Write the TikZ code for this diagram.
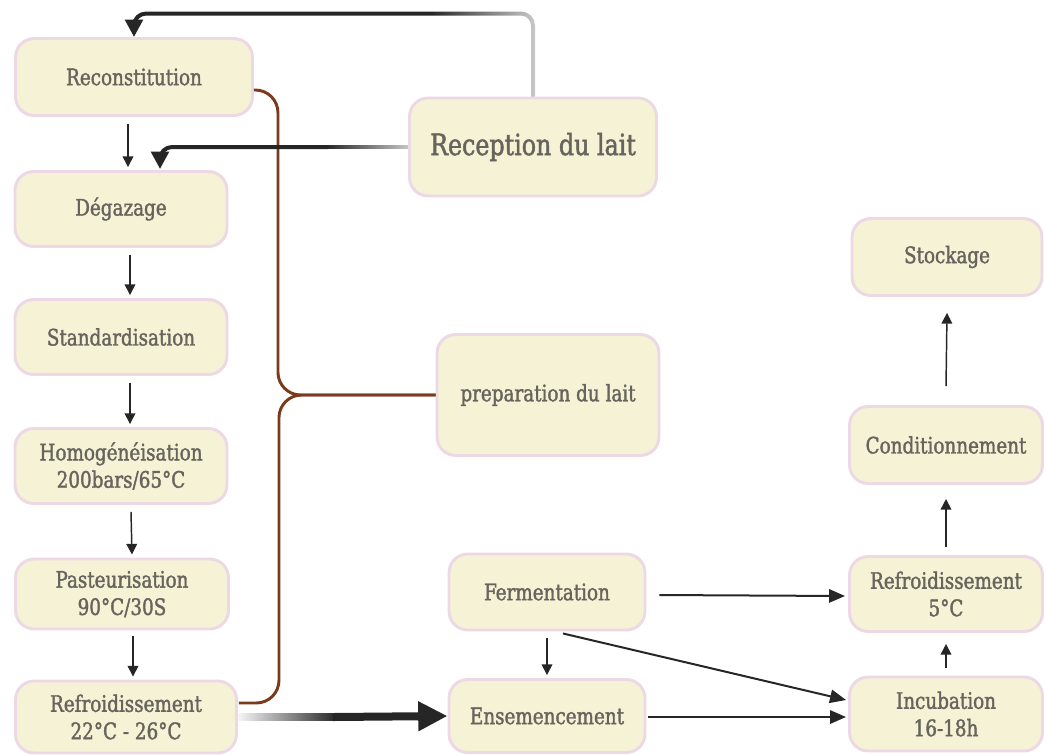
\documentclass[tikz,border=0pt]{standalone}
\usepackage{fontspec}
\setmainfont{DejaVu Serif Condensed}[FakeStretch=0.9, RawFeature={embolden=1.5}]
\usetikzlibrary{arrows.meta,calc,fadings}

\definecolor{boxfill}{HTML}{F5F2D6}
\definecolor{boxline}{HTML}{EDD8E6}
\definecolor{labelgray}{HTML}{66645C}
\definecolor{bracebrown}{HTML}{7B3A1C}

\tikzfading[name=fadetoright, left color=transparent!0, right color=transparent!75]
\tikzfading[name=fadefromleft, left color=transparent!100, right color=transparent!0]

\tikzset{
  stepbox/.style={draw=boxline, fill=boxfill, line width=2.2pt, rounded corners=14pt,
    text=labelgray, align=center, inner sep=0pt, font=\fontsize{17}{20.5}\selectfont},
  boxsize/.style 2 args={minimum width=#1*0.75pt, minimum height=#2*0.75pt},
  flow/.style={draw=black!85, line width=1.1pt, -{Triangle[length=8pt,width=8pt]}},
  sideflow/.style={draw=black!85, line width=1.5pt, -{Triangle[length=12pt,width=10pt]}},
  bigflow/.style={draw=black!85, line width=3pt, rounded corners=9pt, -{Triangle[length=13pt,width=13pt]}},
  brace/.style={draw=bracebrown, line width=2.2pt, rounded corners=17pt}
}

\begin{document}
\begin{tikzpicture}[x=0.75pt, y=-0.75pt]
  \useasboundingbox (0,0) rectangle (1044,754);

  % left column
  \node[stepbox, boxsize={237}{77}] (recon) at (134,77) {Reconstitution};
  \node[stepbox, boxsize={212}{75}] (degaz) at (121,209) {Dégazage};
  \node[stepbox, boxsize={212}{75}] (stand) at (121,337) {Standardisation};
  \node[stepbox, boxsize={212}{75}] (homog) at (121,466) {Homogénéisation\\200bars/65°C};
  \node[stepbox, boxsize={213}{70}] (pasteur) at (122,594) {Pasteurisation\\90°C/30S};
  \node[stepbox, boxsize={221}{72}] (cool1) at (126,717) {Refroidissement\\22°C - 26°C};

  % middle
  \node[stepbox, boxsize={247}{98}, font=\fontsize{22}{26}\selectfont] (recep) at (533,147) {Reception du lait};
  \node[stepbox, boxsize={222}{121}] (prep) at (548,395) {preparation du lait};
  \node[stepbox, boxsize={196}{76}] (ferm) at (547,592) {Fermentation};
  \node[stepbox, boxsize={196}{73}] (ensem) at (547,716) {Ensemencement};

  % right column
  \node[stepbox, boxsize={190}{77}] (stock) at (947,257) {Stockage};
  \node[stepbox, boxsize={193}{77}] (cond) at (946,445) {Conditionnement};
  \node[stepbox, boxsize={193}{75}] (cool2) at (946,594) {Refroidissement\\5°C};
  \node[stepbox, boxsize={193}{74}] (incub) at (946,714) {Incubation\\16-18h};

  % bracket to preparation
  \draw[brace] ($(recon.east)+(0,13)$) -- ++(24,0) |- (prep.west);
  \draw[brace] ($(cool1.east)+(1,-14)$) -- ++(40,0) |- (prep.west);

  % reception arrows
  \coordinate (tp) at ($(recep.north)+(-100,-83)$);
  \draw[line width=3pt, draw=black!85, rounded corners=9pt, path fading=fadetoright] (recep.north) |- (tp);
  \draw[bigflow] (tp) -| (recon.north);
  \coordinate (rd) at ($(recep.west)+(-80,0)$);
  \draw[line width=3pt, draw=black!85, path fading=fadetoright] (rd) -- (recep.west);
  \draw[bigflow] (rd) -| ($(degaz.north)+(39,-1)$);

  % process steps
  \draw[flow] ($(recon.south)+(-6,7)$) -- ($(degaz.north)+(7,-3)$);
  \draw[flow] ($(degaz.south)+(9,7)$) -- ($(stand.north)+(9,-3)$);
  \draw[flow] ($(stand.south)+(9,7)$) -- ($(homog.north)+(9,-3)$);
  \draw[flow] ($(homog.south)+(10,7)$) -- ($(pasteur.north)+(10,-3)$);
  \draw[flow] ($(pasteur.south)+(11,6)$) -- ($(cool1.north)+(7,-3)$);

  \coordinate (ck) at ($(cool1.east)+(95,0)$);
  \draw[line width=6pt, draw=black!85, path fading=fadefromleft] (cool1.east) -- (ck);
  \draw[line width=6pt, draw=black!85, -{Triangle[length=22pt,width=21pt]}] (ck) -- (ensem.west);

  \draw[flow] ($(ferm.south)+(0,7)$) -- ($(ensem.north)+(0,-3)$);
  \draw[sideflow] ($(ferm.east)+(13,3)$) -- ($(cool2.west)+(-3,2)$);
  \draw[sideflow] ($(ferm.south)+(16,2)$) -- ($(incub.west)+(-2,-14)$);
  \draw[sideflow] ($(ensem.east)+(2,1)$) -- ($(incub.west)+(-2,3)$);

  \draw[flow] ($(incub.north)+(0,-8)$) -- ($(cool2.south)+(0,11)$);
  \draw[flow] ($(cool2.north)+(0,-8)$) -- ($(cond.south)+(0,14)$);
  \draw[flow] ($(cond.north)+(0,-19)$) -- ($(stock.south)+(0,16)$);
\end{tikzpicture}
\end{document}
